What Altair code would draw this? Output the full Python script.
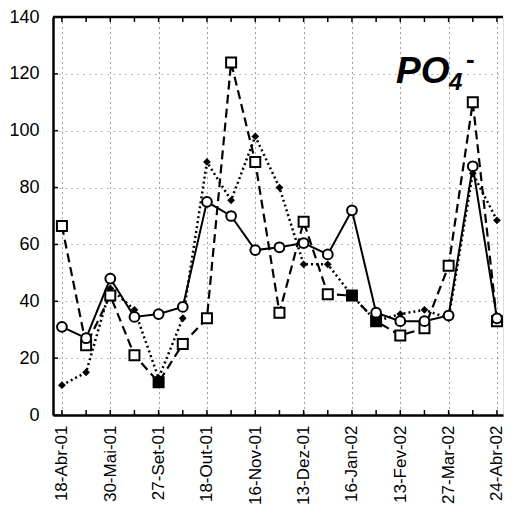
import altair as alt
import pandas as pd

# ---- data ----
date_labels = ["18-Abr-01", "30-Mai-01", "27-Set-01", "18-Out-01", "16-Nov-01",
               "13-Dez-01", "16-Jan-02", "13-Fev-02", "27-Mar-02", "24-Abr-02"]
idx = list(range(19))
circle_vals = [31, 27, 48, 34.5, 35.5, 38, 75, 70, 58, 59, 60.5, 56.5, 72, 36, 33, 33, 35, 87.5, 34]
square_vals = [66.5, 24.5, 42, 21, 11.5, 25, 34, 124, 89, 36, 68, 42.5, 42, 33, 28, 30.5, 52.5, 110, 33]
square_filled = [False, False, False, False, True, False, False, False, False, False,
                 False, False, True, True, False, False, False, False, False]
diamond_vals = [10.5, 15, 44.5, 37, 13, 34, 89, 75.5, 98, 80, 53, 53, 42, 33, 35.5, 37, 34, 85, 68.5]
y_ticks = [0, 20, 40, 60, 80, 100, 120, 140]

df = pd.DataFrame({"i": idx, "c": circle_vals, "s": square_vals,
                   "sf": square_filled, "d": diamond_vals})
yt = pd.DataFrame({"v": y_ticks})
xt = pd.DataFrame({"i": idx})

W, H = 450, 398
FONT = "Liberation Sans"

xscale = alt.Scale(domain=[-0.37, 18.25], nice=False, zero=False)
yscale = alt.Scale(domain=[0, 140], nice=False)

lab_js = "[" + ",".join("'" + s + "'" for s in date_labels) + "]"
x_axis = alt.Axis(values=idx, tickSize=0, labelAngle=270, labelAlign="right",
                  labelBaseline="middle", labelFontSize=17, labelPadding=10,
                  labelExpr=f"datum.value % 2 == 0 ? {lab_js}[datum.value/2] : ''",
                  labelColor="black", labelFont=FONT, labelOverlap=False,
                  domainColor="black", domainWidth=2.5,
                  grid=True, gridDash=[1, 4], gridColor="#444", gridWidth=1,
                  title=None)
y_axis = alt.Axis(values=y_ticks, tickSize=0, labelFontSize=18, labelPadding=14,
                  labelColor="black", labelFont=FONT,
                  domainColor="black", domainWidth=2.5,
                  grid=True, gridDash=[1, 5], gridColor="#777", gridWidth=1,
                  title=None)

base = alt.Chart(df)

frame = base.mark_line(opacity=0).encode(
    x=alt.X("i:Q", scale=xscale, axis=x_axis),
    y=alt.Y("c:Q", scale=yscale, axis=y_axis),
)

top_line = alt.Chart(yt).transform_filter("datum.v == 140").mark_rule(
    color="black", strokeWidth=2.5).encode(y=alt.Y("v:Q", scale=yscale))

yticks_in = alt.Chart(yt).mark_rule(color="black", strokeWidth=1.5).encode(
    y=alt.Y("v:Q", scale=yscale), x=alt.value(0), x2=alt.value(5))
xticks_bot = alt.Chart(xt).mark_rule(color="black", strokeWidth=1.5).encode(
    x=alt.X("i:Q", scale=xscale), y=alt.value(H), y2=alt.value(H - 5))
xticks_top = alt.Chart(xt).mark_rule(color="black", strokeWidth=1.5).encode(
    x=alt.X("i:Q", scale=xscale), y=alt.value(0), y2=alt.value(5))

d_line = base.mark_line(color="black", strokeWidth=2.5, strokeDash=[2, 3]).encode(
    x=alt.X("i:Q", scale=xscale), y=alt.Y("d:Q", scale=yscale))
s_line = base.mark_line(color="black", strokeWidth=2.2, strokeDash=[9, 5]).encode(
    x=alt.X("i:Q", scale=xscale), y=alt.Y("s:Q", scale=yscale))
c_line = base.mark_line(color="black", strokeWidth=2).encode(
    x=alt.X("i:Q", scale=xscale), y=alt.Y("c:Q", scale=yscale))

d_pts = base.mark_point(shape="diamond", size=60, filled=True, color="black", opacity=1).encode(
    x=alt.X("i:Q", scale=xscale), y=alt.Y("d:Q", scale=yscale))
s_pts_open = base.transform_filter("!datum.sf").mark_point(
    shape="square", size=100, filled=True, fill="white", stroke="black",
    strokeWidth=2, opacity=1).encode(
    x=alt.X("i:Q", scale=xscale), y=alt.Y("s:Q", scale=yscale))
s_pts_fill = base.transform_filter("datum.sf").mark_point(
    shape="square", size=100, filled=True, fill="black", stroke="black",
    strokeWidth=2, opacity=1).encode(
    x=alt.X("i:Q", scale=xscale), y=alt.Y("s:Q", scale=yscale))
c_pts = base.mark_point(shape="circle", size=95, filled=True, fill="white",
                        stroke="black", strokeWidth=2, opacity=1).encode(
    x=alt.X("i:Q", scale=xscale), y=alt.Y("c:Q", scale=yscale))

lbl = pd.DataFrame({"t": ["PO"]})
t_po = alt.Chart(lbl).mark_text(font=FONT, fontSize=37, fontWeight="bold",
                                fontStyle="italic", align="left", baseline="alphabetic",
                                color="black").encode(
    text="t:N", x=alt.value(343), y=alt.value(66))
t_4 = alt.Chart(pd.DataFrame({"t": ["4"]})).mark_text(
    font=FONT, fontSize=24, fontWeight="bold", fontStyle="italic", align="left",
    baseline="alphabetic", color="black").encode(
    text="t:N", x=alt.value(396), y=alt.value(73))
t_m = alt.Chart(pd.DataFrame({"t": ["-"]})).mark_text(
    font=FONT, fontSize=26, fontWeight="bold", align="left",
    baseline="alphabetic", color="black").encode(
    text="t:N", x=alt.value(413), y=alt.value(51))

chart = alt.layer(
    frame, top_line, yticks_in, xticks_bot, xticks_top,
    d_line, s_line, c_line, d_pts, s_pts_open, s_pts_fill, c_pts,
    t_po, t_4, t_m
).properties(
    width=W, height=H,
    autosize=alt.AutoSizeParams(type="none"),
    padding={"left": 45, "top": 9, "right": 6, "bottom": 92},
).configure_view(stroke=None).configure(background="white")

chart.save("out.html", embed_options={"renderer": "svg", "actions": False})
